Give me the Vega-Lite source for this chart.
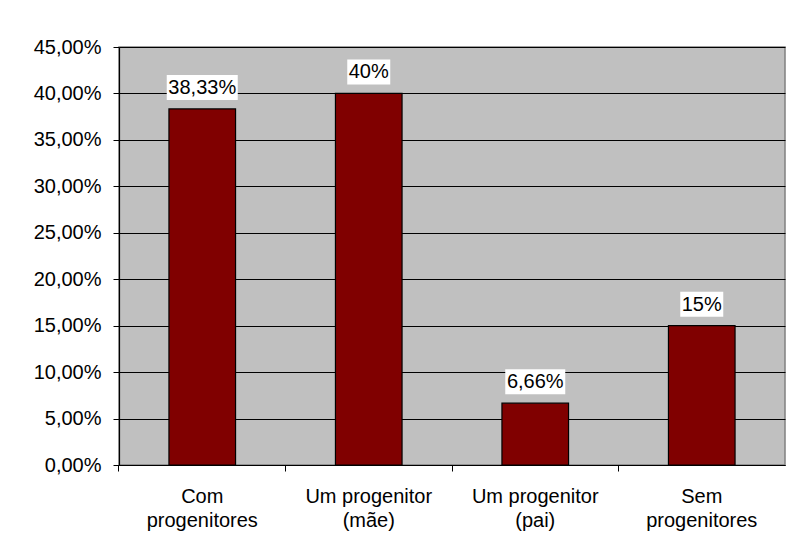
{
  "$schema": "https://vega.github.io/schema/vega-lite/v6.json",
  "width": 666,
  "height": 418,
  "autosize": {"type": "none"},
  "padding": {"left": 119, "top": 47, "right": 5, "bottom": 88},
  "background": "white",
  "data": {
    "values": [
      {"categoria": "Com progenitores", "valor": 0.3833},
      {"categoria": "Um progenitor (mãe)", "valor": 0.40},
      {"categoria": "Um progenitor (pai)", "valor": 0.0666},
      {"categoria": "Sem progenitores", "valor": 0.15}
    ]
  },
  "transform": [
    {"calculate": "replace(format(datum.valor, '.2~%'), '.', ',')", "as": "rotulo"}
  ],
  "encoding": {
    "x": {
      "field": "categoria",
      "type": "nominal",
      "sort": null,
      "scale": {"paddingInner": 0.6, "paddingOuter": 0.3},
      "axis": {
        "title": null,
        "labelAngle": 0,
        "bandPosition": -0.75,
        "labelExpr": "indexof(datum.value, '(') > 0 ? [substring(datum.value, 0, indexof(datum.value, ' (')), substring(datum.value, indexof(datum.value, '('))] : split(datum.value, ' ')",
        "labelLineHeight": 24,
        "labelPadding": 15,
        "grid": false
      }
    },
    "y": {
      "field": "valor",
      "type": "quantitative",
      "scale": {"domain": [0, 0.45], "nice": false},
      "axis": {
        "title": null,
        "values": [0, 0.05, 0.1, 0.15, 0.2, 0.25, 0.3, 0.35, 0.4, 0.45],
        "labelExpr": "replace(format(datum.value, '.2%'), '.', ',')",
        "grid": true,
        "gridColor": "#000000",
        "gridOpacity": 1,
        "gridWidth": 1,
        "labelPadding": 12
      }
    }
  },
  "layer": [
    {
      "mark": {"type": "bar", "color": "#800000", "stroke": "#000000", "strokeWidth": 1.2}
    },
    {
      "transform": [{"filter": "length(datum.rotulo) == 6"}],
      "mark": {"type": "bar", "color": "#FFFFFF", "width": 71, "yOffset": -34, "y2Offset": -9},
      "encoding": {"y2": {"field": "valor"}}
    },
    {
      "transform": [{"filter": "length(datum.rotulo) == 5"}],
      "mark": {"type": "bar", "color": "#FFFFFF", "width": 60, "yOffset": -34, "y2Offset": -9},
      "encoding": {"y2": {"field": "valor"}}
    },
    {
      "transform": [{"filter": "length(datum.rotulo) <= 4"}],
      "mark": {"type": "bar", "color": "#FFFFFF", "width": 43, "yOffset": -34, "y2Offset": -9},
      "encoding": {"y2": {"field": "valor"}}
    },
    {
      "mark": {
        "type": "text",
        "font": "Liberation Sans",
        "fontSize": 20,
        "baseline": "alphabetic",
        "dy": -15,
        "color": "#000000"
      },
      "encoding": {"text": {"field": "rotulo"}}
    }
  ],
  "config": {
    "view": {"fill": "#C0C0C0", "stroke": "#808080", "strokeWidth": 1.5},
    "axis": {
      "labelFont": "Liberation Sans",
      "labelFontSize": 20,
      "labelColor": "#000000",
      "domainColor": "#000000",
      "domainWidth": 1.2,
      "tickColor": "#000000",
      "tickSize": 6,
      "tickWidth": 1
    }
  }
}
